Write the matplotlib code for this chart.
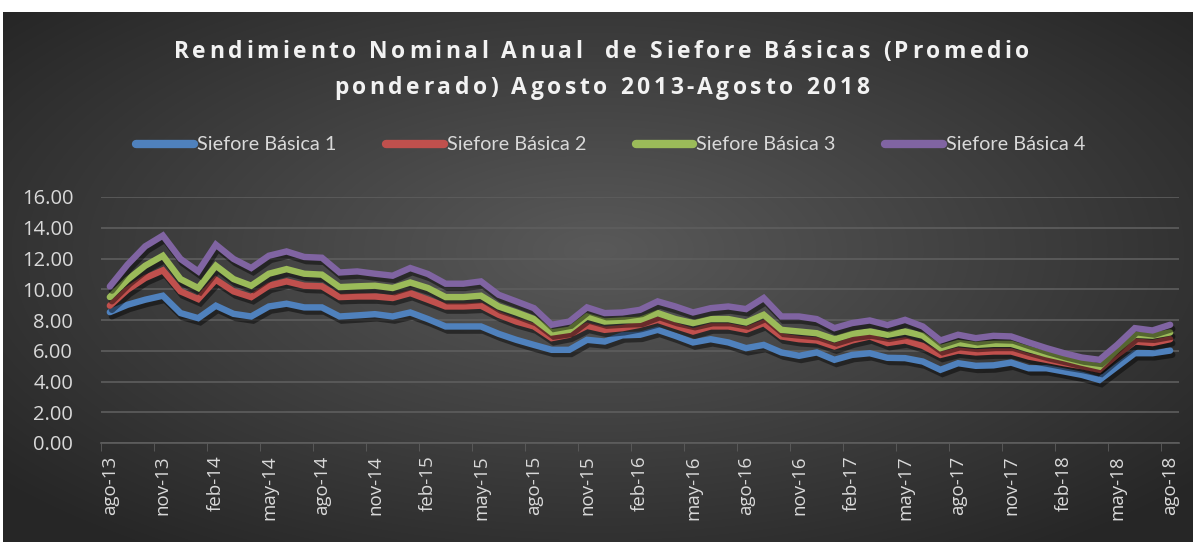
import matplotlib
matplotlib.use("Agg")
import matplotlib.pyplot as plt
import matplotlib.patheffects as pe
import numpy as np

# meses (ago-13 .. ago-18)
meses = ["ene", "feb", "mar", "abr", "may", "jun", "jul", "ago", "sep", "oct", "nov", "dic"]
etiquetas = [f"{meses[(7 + i) % 12]}-{13 + (7 + i) // 12}" for i in range(61)]

sb1 = [8.51, 8.99, 9.32, 9.58, 8.45, 8.12, 8.93, 8.40, 8.23, 8.88, 9.06, 8.82, 8.82, 8.23, 8.30,
       8.38, 8.23, 8.49, 8.06, 7.58, 7.58, 7.58, 7.10, 6.71, 6.38, 6.06, 6.06, 6.71, 6.60, 7.00,
       7.04, 7.36, 6.97, 6.54, 6.75, 6.54, 6.17, 6.38, 5.89, 5.67, 5.89, 5.41, 5.73, 5.84, 5.54,
       5.52, 5.30, 4.76, 5.19, 5.02, 5.05, 5.23, 4.86, 4.86, 4.65, 4.43, 4.10, 4.97, 5.84, 5.84, 6.01]
sb2 = [8.93, 9.97, 10.73, 11.23, 9.86, 9.36, 10.62, 9.86, 9.49, 10.23, 10.51, 10.23, 10.19, 9.49, 9.53,
       9.53, 9.43, 9.75, 9.32, 8.88, 8.88, 8.93, 8.34, 7.90, 7.58, 6.82, 7.04, 7.62, 7.36, 7.47,
       7.69, 8.01, 7.62, 7.25, 7.58, 7.58, 7.36, 7.80, 6.93, 6.75, 6.67, 6.28, 6.67, 6.93, 6.50,
       6.67, 6.32, 5.73, 6.01, 5.89, 5.95, 5.95, 5.62, 5.41, 5.19, 5.00, 4.76, 5.73, 6.60, 6.50, 6.75]
sb3 = [9.49, 10.62, 11.53, 12.18, 10.66, 10.08, 11.53, 10.66, 10.23, 11.01, 11.31, 11.01, 10.95, 10.14, 10.19,
       10.23, 10.08, 10.44, 10.08, 9.49, 9.49, 9.58, 8.88, 8.49, 8.06, 7.19, 7.36, 8.23, 7.90, 7.97,
       8.01, 8.45, 8.06, 7.80, 8.06, 8.06, 7.84, 8.34, 7.36, 7.25, 7.14, 6.75, 7.10, 7.25, 7.04,
       7.25, 6.98, 6.17, 6.50, 6.38, 6.45, 6.45, 6.10, 5.78, 5.52, 5.23, 4.97, 6.06, 7.04, 6.98, 7.19]
sb4 = [10.18, 11.60, 12.79, 13.49, 11.97, 11.16, 12.90, 11.97, 11.38, 12.18, 12.46, 12.10, 12.05, 11.09, 11.16,
       11.01, 10.88, 11.38, 10.99, 10.36, 10.36, 10.51, 9.64, 9.21, 8.77, 7.69, 7.90, 8.82, 8.45, 8.49,
       8.66, 9.21, 8.88, 8.49, 8.77, 8.88, 8.71, 9.43, 8.23, 8.23, 8.06, 7.47, 7.80, 7.97, 7.67,
       8.01, 7.58, 6.67, 7.04, 6.82, 6.97, 6.93, 6.54, 6.17, 5.84, 5.56, 5.41, 6.38, 7.47, 7.32, 7.69]

series = [("Siefore Básica 1", sb1, "#4f81bd"),
          ("Siefore Básica 2", sb2, "#c0504d"),
          ("Siefore Básica 3", sb3, "#9bbb59"),
          ("Siefore Básica 4", sb4, "#8064a2")]

titulo = ["Rendimiento Nominal Anual  de Siefore Básicas (Promedio",
          "ponderado) Agosto 2013-Agosto 2018"]

W, H = 1193, 542
fig = plt.figure(figsize=(W / 100, H / 100), dpi=100, facecolor="white")

# fondo con degradado radial
bg = fig.add_axes([3 / W, 0, 1 - 3 / W, (H - 12) / H])
bg.set_axis_off()
yy, xx = np.mgrid[-1:1:300j, -1:1:600j]
r = np.sqrt((xx * 0.95) ** 2 + ((yy + 0.1) * 0.9) ** 2)
r = np.clip(r / 1.25, 0, 1)
c = 0.35 - 0.2 * r
bg.imshow(np.dstack([c, c, c]), aspect="auto", extent=[0, 1, 0, 1], interpolation="bilinear")

ax = fig.add_axes([101 / W, (H - 443) / H, (1179 - 101) / W, (443 - 197) / H])
ax.set_facecolor("none")
x = np.arange(len(etiquetas))
for nombre, vals, col in series:
    ax.plot(x, vals, color=col, lw=4.6, solid_capstyle="round", solid_joinstyle="miter",
            label=nombre,
            path_effects=[pe.SimpleLineShadow(offset=(1.5, -3), shadow_color="black", alpha=0.45),
                          pe.Normal()])

ax.set_xlim(-0.5, 60.5)
ax.set_ylim(0, 16)
ax.set_yticks(np.arange(0, 17, 2))
ax.set_yticklabels([f"{v:.2f}" for v in np.arange(0, 17, 2)])
ax.grid(axis="y", color="#5e5e5e", lw=1.2)
ax.set_axisbelow(True)
ax.set_xticks(x[::3])
ax.set_xticklabels(etiquetas[::3], rotation=90)
ax.set_xticks(np.arange(-0.5, 61, 3), minor=True)
ax.tick_params(axis="x", which="major", length=0, pad=9, labelsize=13.5, labelcolor="#d9d9d9")
ax.tick_params(axis="x", which="minor", length=6, color="#5e5e5e", direction="out")
ax.tick_params(axis="y", length=0, pad=20, labelsize=14.5, labelcolor="#d9d9d9")
for lbl in ax.get_xticklabels() + ax.get_yticklabels():
    lbl.set_fontfamily("Open Sans")
for s in ["top", "right", "left"]:
    ax.spines[s].set_visible(False)
ax.spines["bottom"].set_color("#5e5e5e")
ax.spines["bottom"].set_linewidth(1.2)

# título con espaciado entre letras (letra por letra)
renderer = fig.canvas.get_renderer()
tracking = 3.5
for linea, ypix in zip(titulo, [52, 88]):
    chars = [fig.text(0, (H - ypix) / H, ch, ha="left", va="center", color="#f2f2f2",
                      fontsize=16.5, fontweight="bold", family="Open Sans") for ch in linea]
    widths = []
    for t in chars:
        if t.get_text() == " ":
            t.set_text("a")
            w = t.get_window_extent(renderer).width * 0.45
            t.set_text(" ")
        else:
            w = t.get_window_extent(renderer).width
        widths.append(w)
    total = sum(widths) + tracking * (len(chars) - 1)
    xpos = (W - total) / 2 + 5
    for t, w in zip(chars, widths):
        t.set_x(xpos / W)
        xpos += w + tracking

leg = fig.legend(loc="center", bbox_to_anchor=(0.512, (H - 145) / H), ncol=4, frameon=False,
                 handlelength=2.9, handletextpad=0.15, columnspacing=2.5,
                 prop={"family": "Lato", "size": 14.3})
for t in leg.get_texts():
    t.set_color("#d9d9d9")
for h in leg.legend_handles:
    h.set_path_effects([])
    h.set_linewidth(6)

fig.savefig("out.png", dpi=100, facecolor="white")
